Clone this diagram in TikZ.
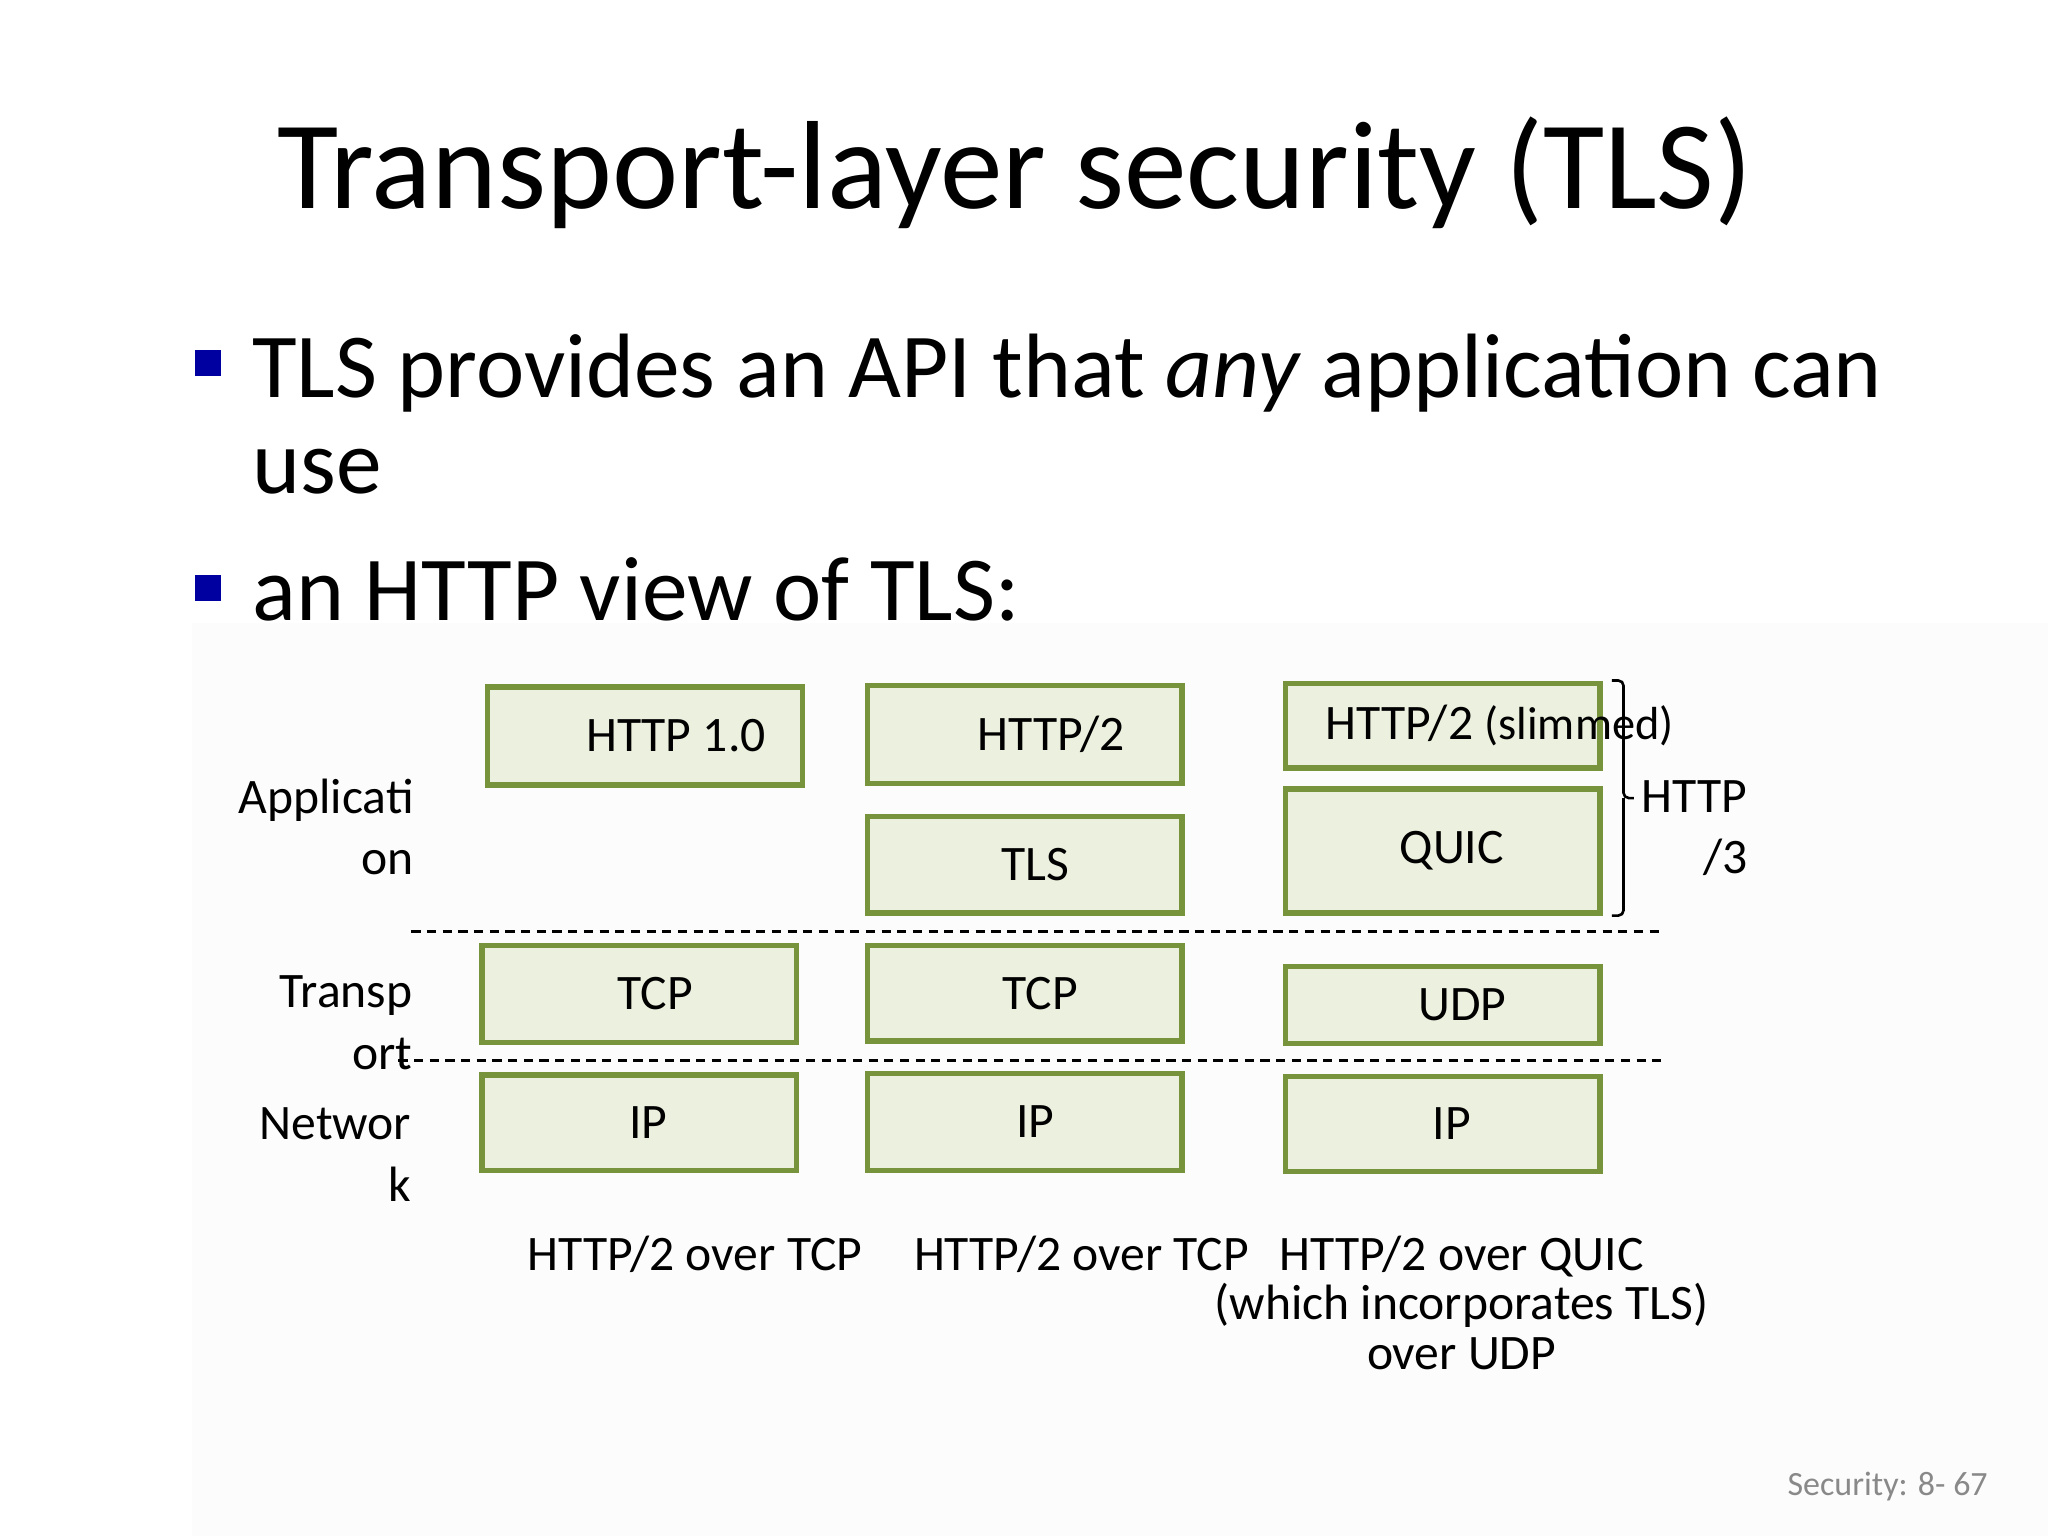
\documentclass[tikz,border=0pt]{standalone}
\usepackage{fontspec}
\setmainfont{Carlito}
\usetikzlibrary{positioning,calc}
\definecolor{boxgreen}{RGB}{235,241,222}
\definecolor{edgegreen}{RGB}{119,147,60}
\definecolor{bulletblue}{RGB}{0,0,160}
\definecolor{footgray}{RGB}{137,137,137}
\tikzset{
 layer/.style={
 rectangle,
 draw=edgegreen,
 fill=boxgreen,
 line width=4pt,
 minimum width=241pt,
 inner sep=0pt,
 font=\fontsize{38}{46}\selectfont
 },
 sidelabel/.style={
 anchor=east,
 align=right,
 inner sep=0pt,
 font=\fontsize{38}{47}\selectfont
 },
 caption/.style={
 align=center,
 inner sep=0pt,
 font=\fontsize{38}{38}\selectfont
 },
 bulletsq/.style={
 rectangle,
 fill=bulletblue,
 minimum size=20pt,
 inner sep=0pt
 },
 bullettext/.style={
 anchor=base west,
 inner sep=0pt,
 font=\fontsize{70}{76}\selectfont
 },
 bracket/.style={line width=2pt, rounded corners=4pt},
 divider/.style={dash pattern=on 7pt off 5pt, line width=2pt}
}

\begin{document}
\begin{tikzpicture}[x=1pt, y=-1pt, node distance=21pt]
 \useasboundingbox (0,0) rectangle (1568,1176);
 \fill[black!1] (147,477) rectangle (1568,1176);

 % title and bullets
 \node[anchor=base, inner sep=0pt, font=\fontsize{96}{100}\selectfont] (title) at (777,160) {Transport-layer security (TLS)};
 \node[bulletsq] (bulletA) at (159.5,278) {};
 \node[bullettext] (textA) at (193,304) {TLS provides an API that \emph{any} application can};
 \node[bullettext] (textAb) at (193,378) {use};
 \node[bulletsq] (bulletB) at (159.5,450) {};
 \node[bullettext] (textB) at (193,475) {an HTTP view of TLS:};

 % layer names
 \node[sidelabel] (applbl) at (317,633) {Applicati\\on};
 \node[sidelabel] (translbl) at (316,783) {Transp\\ort};
 \node[sidelabel] (netlbl) at (315,884) {Networ\\k};

 % HTTP 1.0 stack
 \node[layer, minimum height=75pt] (http10) at (494,563.5) {\hspace*{47pt}HTTP 1.0};
 \node[layer, minimum height=74pt] (tcpA) at (489.5,761) {\hspace*{24pt}TCP};
 \node[layer, minimum height=73pt, below=of tcpA] (ipA) {\hspace*{14pt}IP};

 % HTTP/2 stack
 \node[layer, minimum height=75pt] (http2) at (784.5,562.5) {\hspace*{41pt}HTTP/2};
 \node[layer, minimum height=74pt, below=of http2] (tls) {\hspace*{16pt}TLS};
 \node[layer, minimum height=73pt, below=of tls] (tcpB) {\hspace*{24pt}TCP};
 \node[layer, minimum height=74pt, below=of tcpB] (ipB) {\hspace*{16pt}IP};

 % HTTP/3 stack
 \node[layer, minimum height=65pt] (http2slim) at (1104.5,555.5) {};
 \node[anchor=base west, inner sep=0pt, font=\fontsize{38}{46}\selectfont] (slimtext) at (1015,566) {HTTP/2 {\fontsize{35.5}{40}\selectfont (slimmed)}};
 \node[layer, minimum height=95pt, below=12pt of http2slim] (quic) {\hspace*{14pt}QUIC};
 \node[layer, minimum height=59pt, below=37pt of quic] (udp) {\hspace*{30pt}UDP};
 \node[layer, minimum height=73pt, below=of udp] (ipC) {\hspace*{14pt}IP};

 \coordinate (bracetop) at ([xshift=7pt]http2slim.north east);
 \coordinate (bracebot) at ([xshift=7pt]quic.south east);
 \coordinate (bracemid) at ($(bracetop)!0.5!(bracebot)+(9,0)$);
 \draw[bracket] (bracetop) -| (bracemid) -- ++(8,0);
 \draw[bracket] (bracebot) -| (bracemid);
 \node[sidelabel] (h3lbl) at (1338,634) {HTTP\\/3};

 % layer borders
 \draw[divider] (315,713) -- (1270,713);
 \draw[divider] (305,812) -- (1272,812);

 % captions
 \node[caption, anchor=base] (capA) at (532,973) {HTTP/2 over TCP};
 \node[caption, anchor=base] (capB) at (828,973) {HTTP/2 over TCP};
 \node[caption, anchor=north] (capC) at (1119,946) {HTTP/2 over QUIC\\(which incorporates TLS)\\over UDP};

 \node[anchor=base east, inner sep=0pt, text=footgray, font=\fontsize{26}{30}\selectfont] (footer) at (1522,1145) {Security: 8- 67};
\end{tikzpicture}
\end{document}
